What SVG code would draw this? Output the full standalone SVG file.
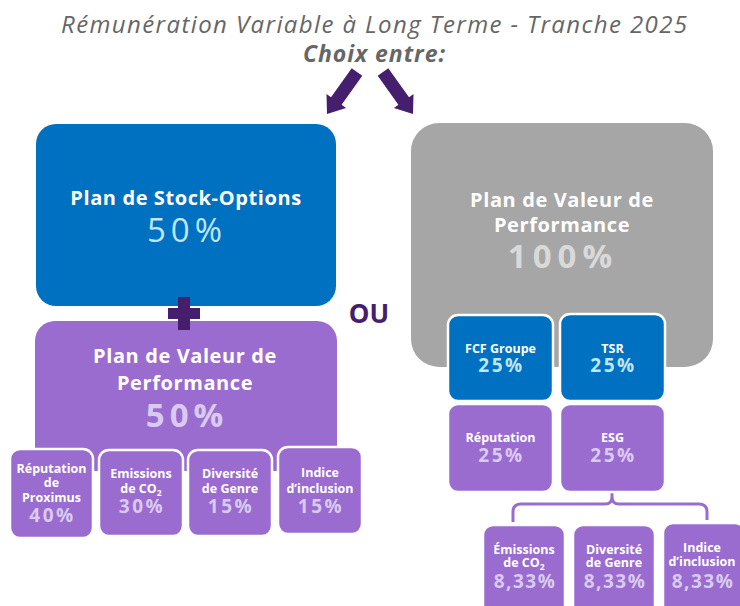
<svg xmlns="http://www.w3.org/2000/svg" width="740" height="606" viewBox="0 0 740 606">
<style>
text{font-family:"Open Sans","Noto Sans","Liberation Sans",sans-serif;text-anchor:middle}
.title{font-size:24px;font-style:italic;fill:#666}
.sub{font-size:23px;font-style:italic;font-weight:bold;fill:#666}
.h{font-size:20px;font-weight:bold;fill:#fff;letter-spacing:0.6px}
.s{font-size:12.5px;font-weight:bold;fill:#fff}
.pctB{font-size:33px;fill:#BFE6FA;letter-spacing:5px}
.pctP{font-size:33px;font-weight:bold;fill:#D9CBF0;letter-spacing:5px}
.pctG{font-size:33px;font-weight:bold;fill:#D9D9D9;letter-spacing:6px}
.spB{font-size:19px;font-weight:bold;fill:#BFE6FA;letter-spacing:2.5px}
.spP{font-size:19px;font-weight:bold;fill:#D9CBF0;letter-spacing:2.5px}
.n8{letter-spacing:1.5px}
.blue{fill:#0070C0}
.purple{fill:#9B6CD0}
.gray{fill:#A6A6A6}
.sb{stroke:#fff;stroke-width:2.5}
.dk{fill:#461E6E}
</style>
<g id="header">
<text class="title" x="374" y="33" textLength="626" lengthAdjust="spacing">Rémunération Variable à Long Terme - Tranche 2025</text>
<text class="sub" x="374" y="62" textLength="142" lengthAdjust="spacing">Choix entre:</text>
</g>
<g id="connectors">
<polygon id="arrow-left" class="dk" points="362.3,75.8 341.6,104.8 346.1,108 327,114 326.5,94 331,97.2 351.7,68.2"/>
<polygon id="arrow-right" class="dk" points="362.3,75.8 341.6,104.8 346.1,108 327,114 326.5,94 331,97.2 351.7,68.2" transform="matrix(-1 0 0 1 740 0)"/>
<path id="brace" d="M612,492 L612,497 Q612,504 605,504 L521,504 Q513,504 513,512 L513,522 M612,497 Q612,504 619,504 L699,504 Q707,504 707,512 L707,520" fill="none" stroke="#9B6CD0" stroke-width="3"/>
</g>
<g id="stock-options">
<rect class="blue" x="36" y="124" width="300" height="182" rx="20"/>
<text class="h" x="186" y="205">Plan de Stock-Options</text>
<text class="pctB" x="187" y="242">50%</text>
</g>
<g id="pvp-50">
<rect class="purple" x="35" y="321" width="302" height="150" rx="20"/>
<text class="h" x="185" y="363">Plan de Valeur de</text>
<text class="h" x="185" y="390">Performance</text>
<text class="pctP" x="187" y="427">50%</text>
</g>
<g id="plus">
<rect class="dk" x="178" y="297" width="12" height="33"/>
<rect class="dk" x="168" y="308" width="32" height="11"/>
</g>
<g id="ou">
<text x="369" y="323" style="font-size:26px;font-weight:bold;fill:#461E6E">OU</text>
</g>
<g id="rep-proximus">
<rect class="purple sb" x="10" y="449" width="83" height="89" rx="10"/>
<text class="s" x="51.5" y="473">Réputation</text>
<text class="s" x="51.5" y="487">de</text>
<text class="s" x="51.5" y="502">Proximus</text>
<text class="spP" x="52.5" y="522">40%</text>
</g>
<g id="emissions-30">
<rect class="purple sb" x="99" y="450" width="84" height="86" rx="10"/>
<text class="s" x="141" y="478">Emissions</text>
<text class="s" x="141" y="493">de CO<tspan font-size="8.5" dy="3">2</tspan></text>
<text class="spP" x="142" y="513">30%</text>
</g>
<g id="diversite-15">
<rect class="purple sb" x="188" y="450" width="84" height="86" rx="10"/>
<text class="s" x="230" y="478">Diversité</text>
<text class="s" x="230" y="493">de Genre</text>
<text class="spP" x="231" y="513">15%</text>
</g>
<g id="inclusion-15">
<rect class="purple sb" x="278" y="447" width="84" height="87" rx="10"/>
<text class="s" x="320" y="477">Indice</text>
<text class="s" x="320" y="493">d’inclusion</text>
<text class="spP" x="321" y="513">15%</text>
</g>
<g id="pvp-100">
<rect class="gray" x="411" y="123" width="302" height="244" rx="28"/>
<text class="h" x="562" y="207">Plan de Valeur de</text>
<text class="h" x="562" y="232">Performance</text>
<text class="pctG" x="563" y="268">100%</text>
</g>
<g id="fcf">
<rect class="blue sb" x="448" y="315" width="105" height="86" rx="10"/>
<text class="s" x="500.5" y="353">FCF Groupe</text>
<text class="spB" x="501.5" y="372">25%</text>
</g>
<g id="tsr">
<rect class="blue sb" x="560" y="314" width="105" height="87" rx="10"/>
<text class="s" x="612.5" y="353">TSR</text>
<text class="spB" x="613.5" y="372">25%</text>
</g>
<g id="reputation-25">
<rect class="purple sb" x="448" y="404" width="105" height="88" rx="10"/>
<text class="s" x="500.5" y="442">Réputation</text>
<text class="spP" x="501.5" y="462">25%</text>
</g>
<g id="esg">
<rect class="purple sb" x="560" y="404" width="105" height="88" rx="10"/>
<text class="s" x="612.5" y="442">ESG</text>
<text class="spP" x="613.5" y="462">25%</text>
</g>
<g id="emissions-833">
<rect class="purple sb" x="483" y="525" width="82" height="95" rx="10"/>
<text class="s" x="524" y="554">Émissions</text>
<text class="s" x="524" y="567">de CO<tspan font-size="8.5" dy="3">2</tspan></text>
<text class="spP n8" x="525" y="588">8,33%</text>
</g>
<g id="diversite-833">
<rect class="purple sb" x="573" y="525" width="82" height="95" rx="10"/>
<text class="s" x="614" y="554">Diversité</text>
<text class="s" x="614" y="567">de Genre</text>
<text class="spP n8" x="615" y="588">8,33%</text>
</g>
<g id="inclusion-833">
<rect class="purple sb" x="663" y="523" width="82" height="97" rx="10"/>
<text class="s" x="702" y="552">Indice</text>
<text class="s" x="702" y="566">d’inclusion</text>
<text class="spP n8" x="703" y="588">8,33%</text>
</g>
</svg>
